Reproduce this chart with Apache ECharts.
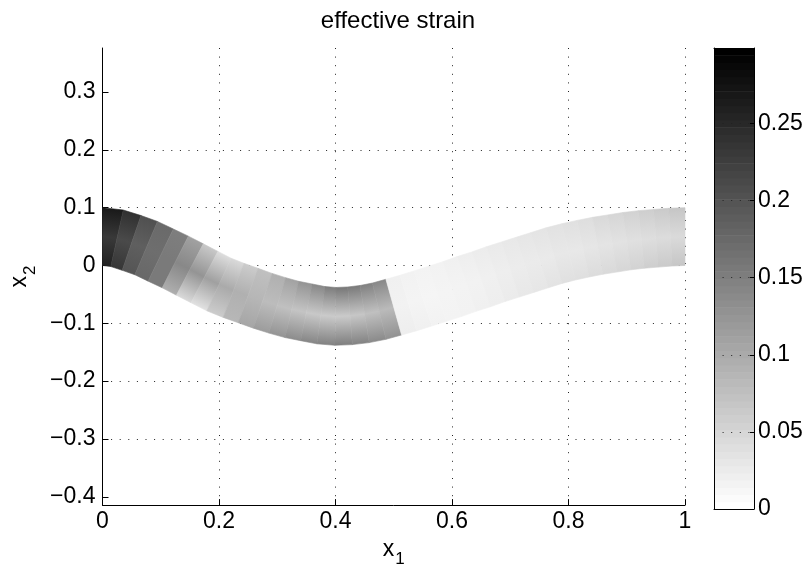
<!DOCTYPE html>
<html><head><meta charset="utf-8">
<script src="https://cdn.jsdelivr.net/npm/echarts@6/dist/echarts.min.js"></script>
<style>html,body{margin:0;padding:0;background:#fff}#c{width:811px;height:573px}</style>
</head><body><div id="c"></div>
<script>
// ---- data ----
const titleText = 'effective strain';
// beam centerline stations (x1) and centerline height (x2)
const stationX = [0,0.025,0.05,0.075,0.1,0.125,0.15,0.175,0.2,0.225,0.25,0.275,0.3,0.325,0.35,0.375,0.4,0.425,0.45,0.475,0.5,0.525,0.55,0.575,0.6,0.625,0.65,0.675,0.7,0.725,0.75,0.775,0.8,0.825,0.85,0.875,0.9,0.925,0.95,0.975,1];
const centerY = [0.050,0.047,0.039,0.030,0.018,0.006,-0.007,-0.020,-0.033,-0.043,-0.052,-0.061,-0.069,-0.076,-0.081,-0.086,-0.088,-0.087,-0.084,-0.079,-0.072,-0.065,-0.057,-0.049,-0.041,-0.032,-0.024,-0.015,-0.007,0.001,0.009,0.017,0.0235,0.029,0.034,0.038,0.042,0.045,0.047,0.049,0.050];
const beamThickness = 0.1;
// effective strain per beam segment: upper fibre, neutral layer, lower fibre
const strainTop = [0.270,0.243,0.205,0.175,0.151,0.110,0.065,0.040,0.045,0.060,
                   0.074,0.093,0.109,0.125,0.139,0.153,0.160,0.156,0.148,0.140,
                   0.018,0.015,0.014,0.015,0.018,0.020,0.022,0.025,0.027,0.029,
                   0.032,0.034,0.036,0.039,0.044,0.048,0.053,0.058,0.062,0.067];
const strainMid = [0.232,0.212,0.188,0.170,0.156,0.140,0.125,0.111,0.100,0.093,
                   0.086,0.078,0.074,0.069,0.064,0.062,0.062,0.067,0.074,0.081,
                   0.015,0.013,0.012,0.013,0.014,0.015,0.018,0.020,0.022,0.024,
                   0.025,0.027,0.027,0.029,0.032,0.034,0.036,0.039,0.041,0.043];
const strainBot = [0.260,0.236,0.199,0.177,0.156,0.095,0.045,0.035,0.060,0.085,
                   0.104,0.116,0.126,0.135,0.142,0.147,0.150,0.145,0.137,0.128,
                   0.020,0.018,0.015,0.014,0.015,0.018,0.020,0.023,0.027,0.029,
                   0.033,0.036,0.037,0.041,0.045,0.048,0.053,0.058,0.062,0.067];
const xTicks = [0,0.2,0.4,0.6,0.8,1];
const yTicks = [-0.4,-0.3,-0.2,-0.1,0,0.1,0.2,0.3];
const cbTicks = [0,0.05,0.1,0.15,0.2,0.25];
const xRange = [0,1];
const yRange = [-0.4143,0.376];
const strainMax = 0.299;
const colormapLevels = 64;

// ---- helpers ----
const FONT = 'Liberation Sans, Arial, Helvetica, sans-serif';
function grayOf(v){
  let t = 1 - v/strainMax; t = Math.max(0, Math.min(1, t));
  const g = Math.round(255*t);
  return 'rgb('+g+','+g+','+g+')';
}
function fmt(v){ return v < 0 ? '\u2212' + String(-v) : String(v); }
function nodePair(j){
  const x = stationX[j], y = centerY[j];
  let tx, ty;
  if (j === 0 || j === stationX.length-1){ tx = 1; ty = 0; }
  else { tx = stationX[j+1]-stationX[j-1]; ty = centerY[j+1]-centerY[j-1]; }
  const L = Math.hypot(tx, ty), nx = -ty/L, ny = tx/L, h = beamThickness/2;
  return { top:[x+h*nx, y+h*ny], bot:[x-h*nx, y-h*ny] };
}
const beamData = strainTop.map((v,i)=>[i, v, strainMid[i], strainBot[i]]);
const cbData = [];
for (let k=0;k<colormapLevels;k++) cbData.push([k]);

const dotted = {color:'#222', width:1, type:[1,7.6]};
const labelStyle = {fontSize:23, color:'#000', fontFamily:FONT};

const chart = echarts.init(document.getElementById('c'), null, {renderer:'canvas'});
chart.setOption({
  animation:false,
  backgroundColor:'#fff',
  title:{text:titleText, left:393, top:4, textAlign:'center',
    textStyle:{fontSize:24, fontWeight:'normal', color:'#000', fontFamily:FONT}},
  grid:[
    {left:102.5, right:126, top:48, bottom:64.7},
    {left:714, width:40, top:48, bottom:64}
  ],
  xAxis:[
    {type:'value', gridIndex:0, min:xRange[0], max:xRange[1], interval:0.2,
     axisLine:{show:true, onZero:false, lineStyle:{color:'#000', width:1}},
     axisTick:{show:true, inside:true, length:6, lineStyle:{color:'#000'}},
     axisLabel:{...labelStyle, margin:5, formatter:fmt},
     splitLine:{show:true, lineStyle:dotted},
     name:'{a|x}{b|1}', nameLocation:'middle', nameGap:23,
     nameTextStyle:{rich:{a:{fontSize:23, fontFamily:FONT, color:'#000', verticalAlign:'top'},
                          b:{fontSize:17, fontFamily:FONT, color:'#000', verticalAlign:'top', padding:[13,0,0,1]}}}},
    {type:'value', gridIndex:1, min:0, max:1, position:'bottom', z:10,
     axisLine:{show:true, onZero:false, lineStyle:{color:'#000'}}, axisTick:{show:false}, axisLabel:{show:false}, splitLine:{show:false}},
    {type:'value', gridIndex:1, min:0, max:1, position:'top', z:10,
     axisLine:{show:true, onZero:false, lineStyle:{color:'#000'}}, axisTick:{show:false}, axisLabel:{show:false}, splitLine:{show:false}}
  ],
  yAxis:[
    {type:'value', gridIndex:0, min:yRange[0], max:yRange[1],
     axisLine:{show:true, onZero:false, lineStyle:{color:'#000', width:1}},
     axisTick:{show:true, inside:true, length:6, customValues:yTicks, lineStyle:{color:'#000'}},
     axisLabel:{...labelStyle, margin:7, customValues:yTicks, formatter:fmt},
     splitLine:{show:true, lineStyle:dotted, showMinLine:false, showMaxLine:false},
     name:'{a|x}{b|2}', nameLocation:'middle', nameGap:64, nameRotate:90,
     nameTextStyle:{rich:{a:{fontSize:23, fontFamily:FONT, color:'#000', verticalAlign:'top'},
                          b:{fontSize:17, fontFamily:FONT, color:'#000', verticalAlign:'top', padding:[13,0,0,1]}}}},
    {type:'value', gridIndex:1, min:0, max:strainMax, interval:0.05, position:'right', z:10,
     axisLine:{show:true, onZero:false, lineStyle:{color:'#000'}},
     axisTick:{show:true, inside:true, length:4, lineStyle:{color:'#000'}},
     axisLabel:{...labelStyle, margin:4, showMaxLabel:false},
     splitLine:{show:true, lineStyle:dotted, showMinLine:false, showMaxLine:false}},
    {type:'value', gridIndex:1, min:0, max:strainMax, position:'left', z:10,
     axisLine:{show:true, onZero:false, lineStyle:{color:'#000'}}, axisTick:{show:false}, axisLabel:{show:false}, splitLine:{show:false}}
  ],
  series:[
    {type:'custom', xAxisIndex:0, yAxisIndex:0, data:beamData, z:2, silent:true,
     renderItem:function(params, api){
       const i = api.value(0);
       const a = nodePair(i), b = nodePair(i+1);
       const tA = api.coord(a.top), tB = api.coord(b.top), bB = api.coord(b.bot), bA = api.coord(a.bot);
       const mt = [(tA[0]+tB[0])/2, (tA[1]+tB[1])/2], mb = [(bA[0]+bB[0])/2, (bA[1]+bB[1])/2];
       const grad = new echarts.graphic.LinearGradient(mt[0], mt[1], mb[0], mb[1], [
         {offset:0, color:grayOf(api.value(1))},
         {offset:0.5, color:grayOf(api.value(2))},
         {offset:1, color:grayOf(api.value(3))}
       ], true);
       return {type:'polygon', shape:{points:[tA,tB,bB,bA]},
               style:{fill:grad, stroke:grad, lineWidth:0.6}};
     }},
    {type:'custom', xAxisIndex:1, yAxisIndex:1, data:cbData, z:1, silent:true,
     renderItem:function(params, api){
       const k = api.value(0), step = strainMax/colormapLevels;
       const p0 = api.coord([0, k*step]), p1 = api.coord([1, (k+1)*step]);
       const g = Math.round(255*(1 - k/(colormapLevels-1)));
       const c = 'rgb('+g+','+g+','+g+')';
       return {type:'rect', shape:{x:p0[0], y:p1[1], width:p1[0]-p0[0], height:p0[1]-p1[1]+0.5},
               style:{fill:c}};
     }}
  ]
});
</script>
</body></html>
